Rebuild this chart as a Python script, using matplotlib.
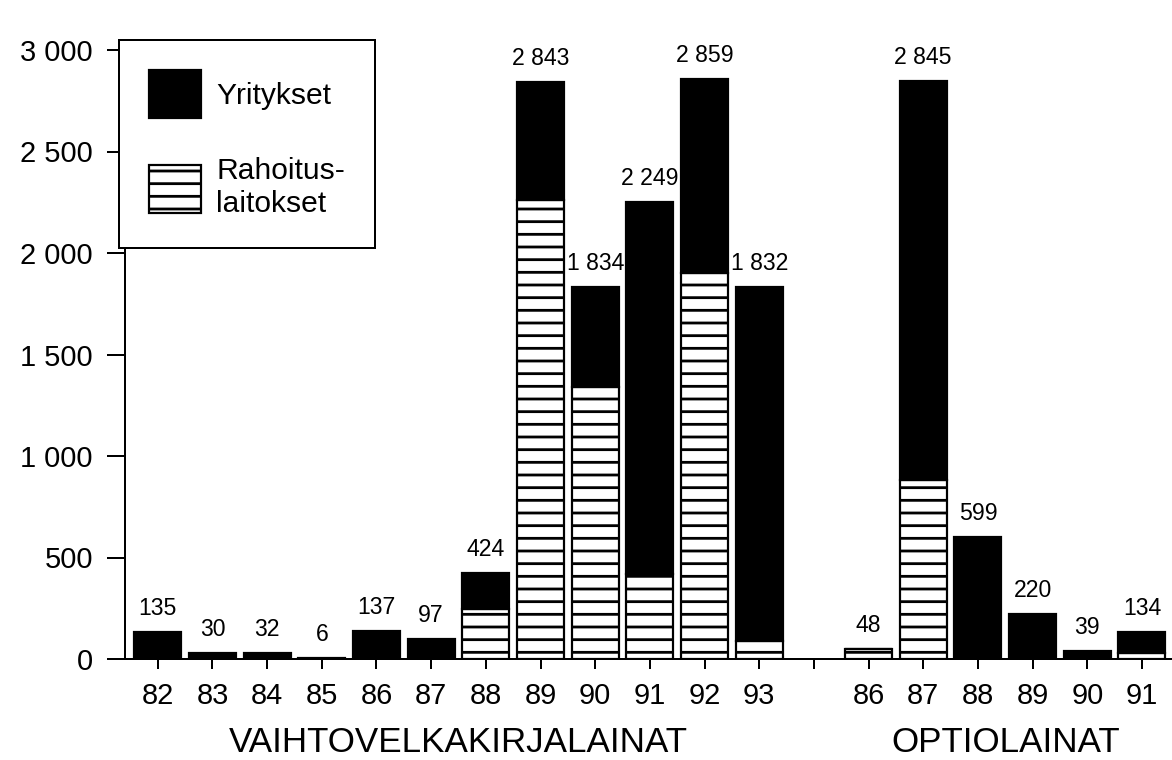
import matplotlib
matplotlib.use("Agg")
import matplotlib.pyplot as plt
from matplotlib.transforms import blended_transform_factory
import numpy as np

# vaihtovelkakirjalainat 1982-1993
vv_years = ["82", "83", "84", "85", "86", "87", "88", "89", "90", "91", "92", "93"]
vv_total = [135, 30, 32, 6, 137, 97, 424, 2843, 1834, 2249, 2859, 1832]
vv_rahoitus = [0, 0, 0, 0, 0, 0, 245, 2260, 1340, 420, 1900, 90]

# optiolainat 1986-1991
op_years = ["86", "87", "88", "89", "90", "91"]
op_total = [48, 2845, 599, 220, 39, 134]
op_rahoitus = [48, 880, 0, 0, 0, 30]

y_ticks = [0, 500, 1000, 1500, 2000, 2500, 3000]

DPI = 152  # hatch spacing follows dpi


def px(v):
    # pixels -> points
    return v * 72.0 / DPI


def fmt(v):
    return "{:,}".format(v).replace(",", " ")


plt.rcParams["font.family"] = ["Liberation Sans", "DejaVu Sans"]
plt.rcParams["hatch.linewidth"] = px(2.8)
plt.rcParams["hatch.color"] = "black"

fig = plt.figure(figsize=(1172 / DPI, 760 / DPI), dpi=DPI)
ax = fig.add_axes([125 / 1172, 101 / 760, 1047 / 1172, 609 / 760])

gap = 1
x_vv = np.arange(len(vv_years))
x_op = np.arange(len(op_years)) + len(vv_years) + gap
x = np.concatenate([x_vv, x_op])
total = np.array(vv_total + op_total)
rahoitus = np.array(vv_rahoitus + op_rahoitus)
yritykset = total - rahoitus

w = 0.86
b_rah = ax.bar(x, rahoitus, w, color="white", edgecolor="black",
               linewidth=px(2.2), hatch="--")
b_yri = ax.bar(x, yritykset, w, bottom=rahoitus, color="black",
               edgecolor="black", linewidth=px(2.2))

for xi, t in zip(x, total):
    ax.annotate(fmt(t), (xi, t), xytext=(0, px(12)), textcoords="offset points",
                ha="center", va="bottom", fontsize=px(23))

ax.set_xlim(-0.6, 18.55)
ax.set_ylim(0, 3000)
ticks = list(x_vv) + [len(vv_years)] + list(x_op)
labels = vv_years + [""] + op_years
ax.set_xticks(ticks)
ax.set_xticklabels(labels, fontsize=px(29))
ax.set_yticks(y_ticks)
ax.set_yticklabels([fmt(v) for v in y_ticks], fontsize=px(29))
ax.tick_params(axis="x", length=px(10), width=px(2), pad=px(13))
ax.tick_params(axis="y", length=px(18), width=px(2), pad=px(14))

for s in ["top", "right"]:
    ax.spines[s].set_visible(False)
for s in ["left", "bottom"]:
    ax.spines[s].set_linewidth(px(2))

trans = blended_transform_factory(ax.transData, ax.transAxes)
ax.text(np.mean(x_vv), -0.137, "VAIHTOVELKAKIRJALAINAT", transform=trans,
        ha="center", va="center", fontsize=px(35))
ax.text(np.mean(x_op), -0.137, "OPTIOLAINAT", transform=trans,
        ha="center", va="center", fontsize=px(35))

leg = ax.legend([b_yri, b_rah], ["Yritykset", "Rahoitus-\nlaitokset"],
                loc="upper left", bbox_to_anchor=(-0.006, 1 + 10 / 609),
                borderaxespad=0, fontsize=px(30), fancybox=False,
                edgecolor="black", framealpha=1, handlelength=1.75,
                handleheight=2.1, borderpad=1.0, labelspacing=1.3,
                handletextpad=0.5)
leg.get_frame().set_linewidth(px(2))

fig.savefig("out.png", dpi=DPI)
